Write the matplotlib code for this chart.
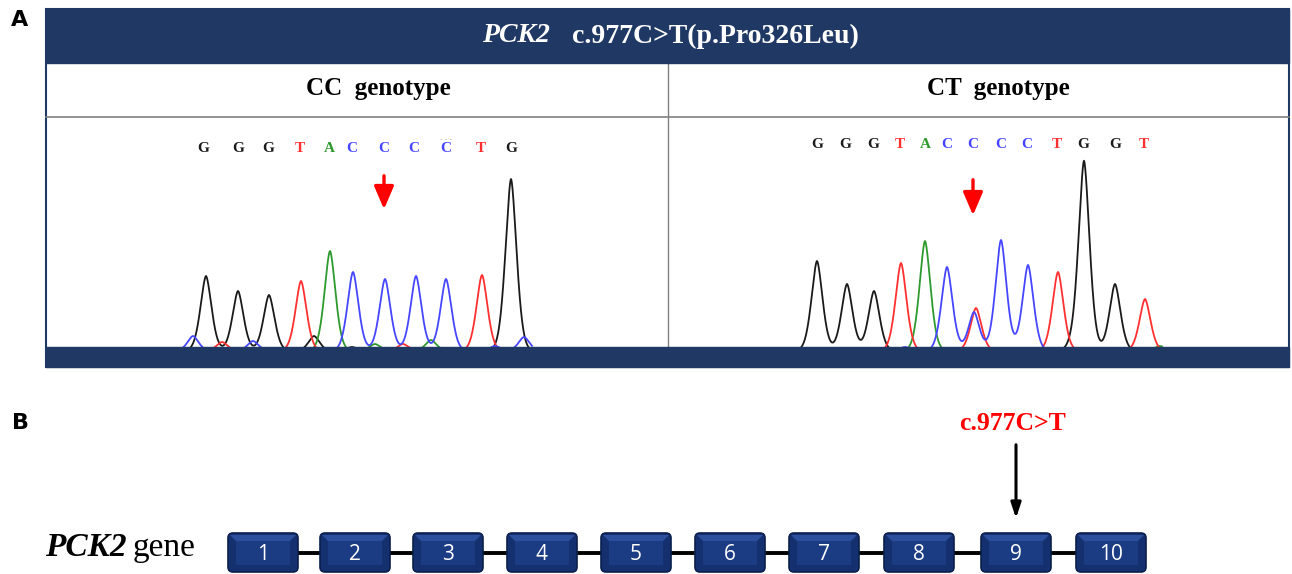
import numpy as np
import matplotlib
matplotlib.use("Agg")
import matplotlib.pyplot as plt
from matplotlib.patches import Rectangle, FancyBboxPatch, Polygon

# ==============================
# data
# ==============================
BASE_COLORS = {"G": "#1a1a1a", "A": "#2e9a2e", "T": "#ff3030", "C": "#4646ff"}

cc_bases = list("GGGTACCCCTG")
cc_base_x = [203, 238, 268, 300, 329, 352, 384, 414, 446, 481, 511]
cc_peak_x = [206, 238, 269, 301, 330, 353, 385, 416, 446, 482, 511,
             193, 222, 253, 314, 352, 375, 403, 431, 495, 524]
cc_peak_h = [75, 60, 56, 70, 100, 79, 72, 75, 72, 76, 172,
             15, 9, 10, 15, 4, 7, 7, 11, 5, 14]
cc_peak_b = list("GGGTACCCCTG") + list("CTCGGATACC")

ct_bases = list("GGGTACCCCTGGT")
ct_base_x = [817, 845, 873, 900, 925, 947, 973, 1001, 1027, 1057, 1083, 1115, 1144]
ct_peak_x = [817, 847, 874, 901, 925, 947, 974, 976, 1001, 1028, 1058, 1084, 1115, 1145,
             830, 905, 1070, 1160]
ct_peak_h = [90, 67, 60, 88, 110, 84, 39, 43, 111, 86, 79, 190, 67, 52,
             3, 4, 3, 5]
ct_peak_b = list("GGGTACCTCCTGGT") + list("ACGA")

exons = [str(i) for i in range(1, 11)]
exon_x = [263, 355, 448, 542, 636, 730, 824, 919, 1016, 1111]
mut_exon = "9"

NAVY = "#203864"
BASELINE = 347

fig = plt.figure(figsize=(12.92, 5.74), dpi=100)
ax = fig.add_axes([0, 0, 1, 1])
ax.set_xlim(0, 1292)
ax.set_ylim(574, 0)
ax.axis("off")

serif = "Liberation Serif"

# ==============================
# panel A frame
# ==============================
ax.add_patch(Rectangle((46, 9), 1243, 358, facecolor="white", edgecolor=NAVY, lw=1.5, zorder=1))
ax.add_patch(Rectangle((46, 9), 1243, 54, facecolor=NAVY, edgecolor=NAVY, zorder=5))
ax.add_patch(Rectangle((46, 347), 1243, 20, facecolor=NAVY, edgecolor=NAVY, zorder=5))
ax.plot([46, 1289], [117, 117], color="#808080", lw=1.2, zorder=4)
ax.plot([668, 668], [63, 347], color="#808080", lw=1.0, zorder=4)

ax.text(482, 36, "PCK2", color="white", fontsize=20, family=serif, style="italic",
        weight="bold", ha="left", va="center", zorder=6)
ax.text(572, 36, "c.977C>T(p.Pro326Leu)", color="white", fontsize=20, family=serif,
        weight="bold", ha="left", va="center", zorder=6)

ax.text(378, 88, "CC  genotype", fontsize=18, family=serif, weight="bold",
        ha="center", va="center", zorder=6)
ax.text(998, 88, "CT  genotype", fontsize=18, family=serif, weight="bold",
        ha="center", va="center", zorder=6)

ax.text(20, 20, "A", fontsize=16, weight="bold", ha="center", va="center")
ax.text(20, 423, "B", fontsize=16, weight="bold", ha="center", va="center")


# ==============================
# chromatograms
# ==============================
def draw_trace(xs, hs, bs, x0, x1):
    grid = np.linspace(x0, x1, 1500)
    for b in "GATC":
        sig = np.zeros_like(grid)
        for px, ph, pb in zip(xs, hs, bs):
            if pb == b:
                sig += ph * np.exp(-np.abs((grid - px) / 8.0) ** 1.7)
        ax.plot(grid, BASELINE + 4 - sig, color=BASE_COLORS[b], lw=1.3, zorder=3)


draw_trace(cc_peak_x, cc_peak_h, cc_peak_b, 181, 532)
draw_trace(ct_peak_x, ct_peak_h, ct_peak_b, 800, 1162)

for bases, bx, y in [(cc_bases, cc_base_x, 148), (ct_bases, ct_base_x, 145)]:
    for b, x in zip(bases, bx):
        ax.text(x, y, b, color=BASE_COLORS[b], fontsize=11, family=serif, weight="bold",
                ha="center", va="center", zorder=6)
ax.text(446, 139, "- - -", color="#aaaaaa", fontsize=5, ha="center", va="center")

for x, y0, y1 in [(384, 173, 212), (973, 177, 218)]:
    ax.annotate("", xy=(x, y1), xytext=(x, y0),
                arrowprops=dict(arrowstyle="-|>,head_width=0.6,head_length=1.4",
                                color="#ff0000", lw=2.4), zorder=6)

# ==============================
# panel B - gene structure
# ==============================
ax.plot([exon_x[0], exon_x[-1]], [553, 553], color="black", lw=2.8, zorder=1)
for lab, cx in zip(exons, exon_x):
    ax.add_patch(FancyBboxPatch((cx - 35, 533), 70, 39,
                                boxstyle="round,pad=0,rounding_size=5",
                                facecolor="#14306e", edgecolor="#0c1f4d", lw=1.2, zorder=2))
    # bevel faces
    ax.add_patch(Polygon([(cx - 33, 535), (cx + 33, 535), (cx + 27, 541), (cx - 27, 541)],
                         facecolor="#2b4f9c", edgecolor="none", zorder=2.4))
    ax.add_patch(Rectangle((cx - 27, 541), 54, 24, facecolor="#1b3b83",
                           edgecolor="none", zorder=2.5))
    ax.text(cx, 554, lab, color="white", fontsize=15, family="Open Sans",
            ha="center", va="center", zorder=3)

mx = exon_x[exons.index(mut_exon)]
ax.annotate("", xy=(mx, 521), xytext=(mx, 442),
            arrowprops=dict(arrowstyle="-|>,head_width=0.3,head_length=0.9",
                            color="black", lw=2.2))
ax.text(mx - 3, 423, "c.977C>T", color="#ff0000", fontsize=18.5, family=serif,
        weight="bold", ha="center", va="center")

ax.text(45, 548, "PCK2", fontsize=24, family=serif, weight="bold", style="italic",
        ha="left", va="center")
ax.text(133, 548, "gene", fontsize=24, family=serif, ha="left", va="center")

fig.savefig("out.png", dpi=100)
